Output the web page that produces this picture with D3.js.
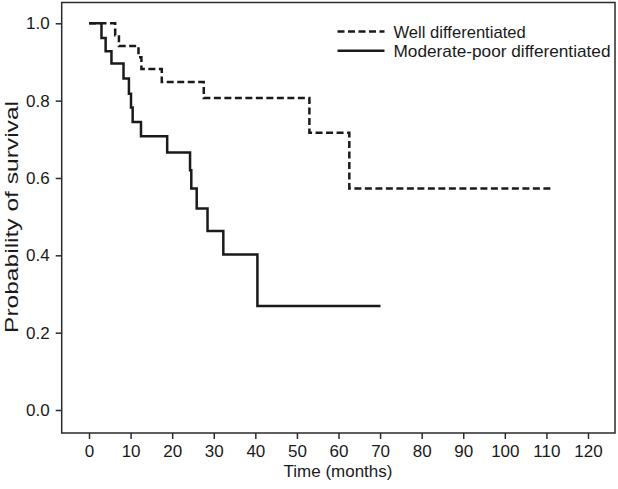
<!DOCTYPE html>
<html>
<head>
<meta charset="utf-8">
<script src="https://cdn.jsdelivr.net/npm/d3@7"></script>
<style>
  html, body { margin: 0; padding: 0; background: #fff; }
  svg { display: block; font-family: "Liberation Sans", Arial, Helvetica, sans-serif; }
</style>
</head>
<body>
<svg id="chart" width="618" height="489"></svg>
<script>
// ---- data ----
const wellTimes = [0, 6.3, 7.2, 11.9, 12.6, 17.5, 27.6, 53.0, 62.6, 111.2];
const wellSurv  = [1, 0.969, 0.941, 0.912, 0.882, 0.848, 0.807, 0.717, 0.573, 0.573];
const modTimes  = [0, 3.0, 4.0, 5.4, 8.3, 9.6, 10.1, 10.5, 12.5, 18.8, 24.3, 24.6, 25.9, 28.5, 32.3, 40.5, 70.1];
const modSurv   = [1, 0.962, 0.928, 0.896, 0.857, 0.818, 0.782, 0.745, 0.708, 0.666, 0.62, 0.573, 0.521, 0.463, 0.402, 0.269, 0.269];
const xTicks = [0, 10, 20, 30, 40, 50, 60, 70, 80, 90, 100, 110, 120];
const yTicks = [0, 0.2, 0.4, 0.6, 0.8, 1.0];
const seriesNames = ["Well differentiated", "Moderate-poor differentiated"];

// ---- layout ----
const frame = { left: 61.7, right: 615, top: 2.5, bottom: 433 };
const svg = d3.select("#chart");
const x = d3.scaleLinear().domain([0, 120]).range([89, 588]);
const y = d3.scaleLinear().domain([0, 1]).range([410, 23.3]);
const ink = "#1a1a1a";

// frame
svg.append("rect")
  .attr("x", frame.left).attr("y", frame.top)
  .attr("width", frame.right - frame.left).attr("height", frame.bottom - frame.top)
  .attr("fill", "none").attr("stroke", "#2a2a2a").attr("stroke-width", 1.5);

// x axis
const xAxis = svg.append("g").attr("transform", `translate(0,${frame.bottom})`)
  .call(d3.axisBottom(x).tickValues(xTicks).tickSize(6).tickPadding(6).tickFormat(d3.format("d")));
xAxis.select(".domain").remove();
xAxis.selectAll(".tick line").attr("stroke", "#2a2a2a").attr("stroke-width", 1.5);
xAxis.selectAll(".tick text").attr("font-size", 17).attr("fill", ink)
  .attr("font-family", "'Liberation Sans', Arial, sans-serif");

// y axis
const yAxis = svg.append("g").attr("transform", `translate(${frame.left},0)`)
  .call(d3.axisLeft(y).tickValues(yTicks).tickSize(6).tickPadding(6).tickFormat(d3.format(".1f")));
yAxis.select(".domain").remove();
yAxis.selectAll(".tick line").attr("stroke", "#2a2a2a").attr("stroke-width", 1.5);
yAxis.selectAll(".tick text").attr("font-size", 17).attr("fill", ink)
  .attr("font-family", "'Liberation Sans', Arial, sans-serif");

// axis titles
svg.append("text").attr("x", 338).attr("y", 477).attr("text-anchor", "middle")
  .attr("font-size", 17).attr("fill", ink).text("Time (months)");
svg.append("text").attr("transform", `translate(18,217) rotate(-90)`).attr("text-anchor", "middle")
  .attr("font-size", 18).attr("fill", ink)
  .attr("textLength", 232).attr("lengthAdjust", "spacingAndGlyphs")
  .text("Probability of survival");

// curves
const line = d3.line().curve(d3.curveStepAfter).x(d => x(d[0])).y(d => y(d[1]));
const wellData = wellTimes.map((t, i) => [t, wellSurv[i]]);
const modData = modTimes.map((t, i) => [t, modSurv[i]]);

svg.append("path").datum(wellData).attr("d", line)
  .attr("fill", "none").attr("stroke", ink).attr("stroke-width", 2.5)
  .attr("stroke-dasharray", "7,3.5");
svg.append("path").datum(modData).attr("d", line)
  .attr("fill", "none").attr("stroke", ink).attr("stroke-width", 2.5);

// legend
const legend = svg.append("g");
const legItems = [
  { name: seriesNames[0], dash: "7,3.5", y: 31.6 },
  { name: seriesNames[1], dash: null, y: 50.8 }
];
legItems.forEach(it => {
  legend.append("line").attr("x1", 337.5).attr("x2", 384.5).attr("y1", it.y).attr("y2", it.y)
    .attr("stroke", ink).attr("stroke-width", 2.5)
    .attr("stroke-dasharray", it.dash);
  legend.append("text").attr("x", 393.5).attr("y", it.y).attr("dy", "0.36em")
    .attr("font-size", 16.6).attr("fill", ink)
    .attr("textLength", it === legItems[1] ? 217 : null)
    .attr("lengthAdjust", "spacingAndGlyphs")
    .text(it.name);
});
</script>
</body>
</html>
